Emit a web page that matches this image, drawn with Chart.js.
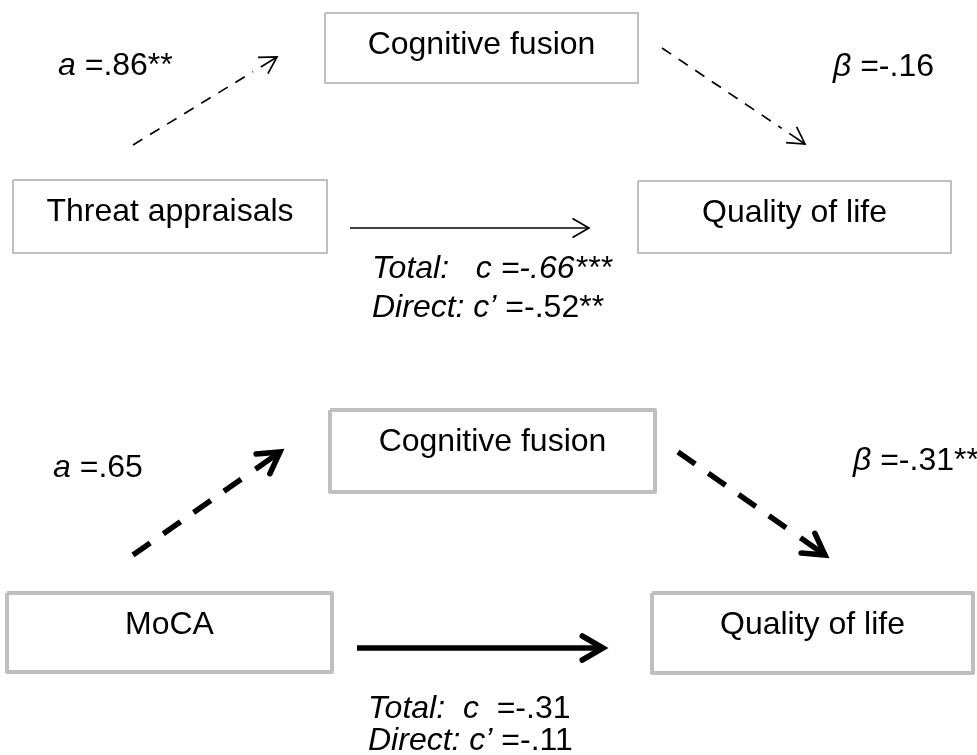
<!DOCTYPE html>
<html>
<head>
<meta charset="utf-8">
<script src="https://cdn.jsdelivr.net/npm/chart.js@4/dist/chart.umd.min.js"></script>
<style>
  html, body { margin: 0; padding: 0; background: #fff; }
  #wrap { width: 977px; height: 755px; }
</style>
</head>
<body>
<div id="wrap"><canvas id="mediationChart"></canvas></div>
<script>
// Variables of the two mediation models
const predictors = ['Threat appraisals', 'MoCA'];
const mediators = ['Cognitive fusion', 'Cognitive fusion'];
const outcomes = ['Quality of life', 'Quality of life'];

// Path coefficients (stars = significance)
const aPaths = ['.86**', '.65'];
const bPaths = ['-.16', '-.31**'];
const totalEffects = ['-.66***', '-.31'];
const directEffects = ['-.52**', '-.11'];

// Layout of each panel, in diagram units (same as the 977x755 page)
const panels = [
    { // top model, thin strokes
        pred: [13, 180, 327, 253], med: [325, 13, 638, 83], out: [638, 181, 951, 253],
        drop: 41,
        a: [[133, 145], [277, 57]], b: [[662, 48], [805, 144]], c: [[350, 228], [589, 228]],
        aLabel: [58, 75], bLabel: [833, 76], totalLabel: [372, 278], directLabel: [372, 317],
        totalGap: 'Total:   c ', totalValueItalic: true,
        lineWidth: 1.7, boxWidth: 2, dash: [11, 9], trim: 28, stub: 19, headLen: 19
    },
    { // bottom model, heavy strokes
        pred: [7, 593, 332, 672], med: [330, 410, 655, 492], out: [652, 593, 973, 673],
        drop: 41,
        a: [[133, 555], [280, 452]], b: [[678, 452], [825, 555]], c: [[357, 648], [603, 648]],
        aLabel: [53, 477], bLabel: [853, 470], totalLabel: [368, 718], directLabel: [368, 750],
        totalGap: 'Total:  c  ', totalValueItalic: false,
        lineWidth: 5.5, boxWidth: 4, dash: [21, 16], trim: 47, stub: 30, headLen: 24
    }
];

const boxColor = '#bfbfbf';
const fontFamily = '"Liberation Sans", Arial, sans-serif';

function rectPoints(r) {
    return [
        {x: r[0], y: r[1]}, {x: r[2], y: r[1]}, {x: r[2], y: r[3]},
        {x: r[0], y: r[3]}, {x: r[0], y: r[1]}
    ];
}

// point at distance d back from the tip of a segment
function backFromTip(seg, d) {
    const p0 = seg[0], p1 = seg[1];
    const len = Math.hypot(p1[0] - p0[0], p1[1] - p0[1]);
    const k = (len - d) / len;
    return {x: p0[0] + (p1[0] - p0[0]) * k, y: p0[1] + (p1[1] - p0[1]) * k};
}

function headPoints(seg, len) {
    const p0 = seg[0], p1 = seg[1];
    const t = Math.atan2(p1[1] - p0[1], p1[0] - p0[0]);
    const ang = Math.PI / 6;
    return [
        {x: p1[0] - len * Math.cos(t - ang), y: p1[1] - len * Math.sin(t - ang)},
        {x: p1[0], y: p1[1]},
        {x: p1[0] - len * Math.cos(t + ang), y: p1[1] - len * Math.sin(t + ang)}
    ];
}

const datasets = [];
panels.forEach(function(p) {
    ['pred', 'med', 'out'].forEach(function(k) {
        datasets.push({
            data: rectPoints(p[k]),
            borderColor: boxColor,
            borderWidth: p.boxWidth,
            borderJoinStyle: 'round'
        });
    });
    ['a', 'b', 'c'].forEach(function(k) {
        const dashed = k !== 'c';
        const start = {x: p[k][0][0], y: p[k][0][1]};
        const tip = {x: p[k][1][0], y: p[k][1][1]};
        datasets.push({
            data: dashed ? [start, backFromTip(p[k], p.trim)] : [start, tip],
            borderColor: '#000',
            borderWidth: p.lineWidth,
            borderDash: dashed ? p.dash : [],
            borderCapStyle: 'butt'
        });
        if (dashed) {
            // solid piece of shaft carried by the arrow head
            datasets.push({
                data: [backFromTip(p[k], p.stub), tip],
                borderColor: '#000',
                borderWidth: p.lineWidth,
                borderCapStyle: 'butt'
            });
        }
        datasets.push({
            data: headPoints(p[k], p.headLen),
            borderColor: '#000',
            borderWidth: p.lineWidth,
            borderJoinStyle: 'miter',
            borderCapStyle: p.lineWidth > 3 ? 'round' : 'butt'
        });
    });
});
datasets.forEach(function(d) {
    d.showLine = true;
    d.pointRadius = 0;
    d.fill = false;
    d.tension = 0;
});

// Draws the node names and the coefficient labels
const labelPlugin = {
    id: 'labels',
    afterDatasetsDraw: function(chart) {
        const ctx = chart.ctx;
        const xs = chart.scales.x, ys = chart.scales.y;
        ctx.save();
        ctx.fillStyle = '#000';
        ctx.textBaseline = 'alphabetic';

        function runs(x, y, parts) {
            let px = xs.getPixelForValue(x);
            const py = ys.getPixelForValue(y);
            ctx.textAlign = 'left';
            parts.forEach(function(part) {
                ctx.font = (part[1] ? 'italic ' : '') + '32px ' + fontFamily;
                ctx.fillText(part[0], px, py);
                px += ctx.measureText(part[0]).width;
            });
        }
        function centered(text, r, drop) {
            ctx.font = '32px ' + fontFamily;
            ctx.textAlign = 'center';
            ctx.fillText(text, xs.getPixelForValue((r[0] + r[2]) / 2), ys.getPixelForValue(r[1] + drop));
        }

        panels.forEach(function(p, i) {
            centered(predictors[i], p.pred, p.drop);
            centered(mediators[i], p.med, p.drop);
            centered(outcomes[i], p.out, p.drop);
            runs(p.aLabel[0], p.aLabel[1], [['a', true], [' =' + aPaths[i], false]]);
            runs(p.bLabel[0], p.bLabel[1], [['\u03b2', true], [' =' + bPaths[i], false]]);
            runs(p.totalLabel[0], p.totalLabel[1], [[p.totalGap, true], ['=' + totalEffects[i], p.totalValueItalic]]);
            runs(p.directLabel[0], p.directLabel[1], [['Direct: c\u2019 ', true], ['=' + directEffects[i], false]]);
        });
        ctx.restore();
    }
};

new Chart(document.getElementById('mediationChart').getContext('2d'), {
    type: 'scatter',
    data: { datasets: datasets },
    options: {
        responsive: true,
        maintainAspectRatio: false,
        animation: false,
        events: [],
        layout: { padding: 0 },
        plugins: { legend: { display: false }, tooltip: { enabled: false } },
        scales: {
            x: { type: 'linear', min: 0, max: 977, display: false },
            y: { type: 'linear', min: 0, max: 755, reverse: true, display: false }
        }
    },
    plugins: [labelPlugin]
});
</script>
</body>
</html>
